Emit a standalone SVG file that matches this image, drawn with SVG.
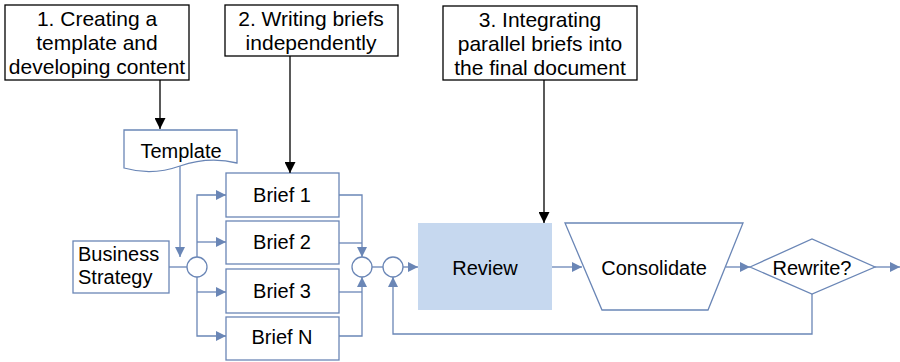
<svg xmlns="http://www.w3.org/2000/svg" width="900" height="362" viewBox="0 0 900 362">
<defs>
<style>
text{font-family:"Liberation Sans",Arial,sans-serif;fill:#000;font-size:20px}
.box{fill:#fff;stroke:#000;stroke-width:1.3}
.node{fill:#fff;stroke:#6A86B6;stroke-width:1.3}
.c{fill:none;stroke:#6A86B6;stroke-width:1.3}
.k{fill:none;stroke:#000;stroke-width:1.3}
.t{text-anchor:middle}
.big{font-size:21px}
</style>
<marker id="ab" viewBox="0 0 10 10" refX="10" refY="5" markerWidth="10" markerHeight="10" markerUnits="userSpaceOnUse" orient="auto"><path d="M0,0 L10,5 L0,10 Z" fill="#6A86B6"/></marker>
<marker id="ak" viewBox="0 0 10 10" refX="10" refY="5" markerWidth="11" markerHeight="11" markerUnits="userSpaceOnUse" orient="auto"><path d="M0,0 L10,5 L0,10 Z" fill="#000"/></marker>
</defs>
<g id="step1"><rect class="box" x="5" y="5" width="184" height="75"/><text class="t big" x="97" y="26">1. Creating a</text><text class="t big" x="97" y="50">template and</text><text class="t big" x="97" y="74">developing content</text></g>
<g id="step2"><rect class="box" x="225" y="5" width="173" height="51"/><text class="t big" x="311" y="26">2. Writing briefs</text><text class="t big" x="311" y="50">independently</text></g>
<g id="step3"><rect class="box" x="443" y="6" width="194" height="74"/><text class="t big" x="540" y="27">3. Integrating</text><text class="t big" x="540" y="51">parallel briefs into</text><text class="t big" x="540" y="75">the final document</text></g>
<g id="template"><path class="node" d="M124,130 H237 V163 Q209,156 180,166 Q152,176 124,168 Z"/><text class="t" x="181" y="158">Template</text></g>
<g id="business"><rect class="node" x="73" y="241" width="96" height="52"/><text x="78" y="261">Business</text><text x="78" y="284">Strategy</text></g>
<g id="join1"><circle class="node" cx="197" cy="267" r="10"/></g>
<g id="brief1"><rect class="node" x="226" y="173" width="113" height="44"/><text class="t" x="282" y="202">Brief 1</text></g>
<g id="brief2"><rect class="node" x="226" y="221" width="113" height="43"/><text class="t" x="282" y="249">Brief 2</text></g>
<g id="brief3"><rect class="node" x="226" y="269" width="113" height="44"/><text class="t" x="282" y="298">Brief 3</text></g>
<g id="briefN"><rect class="node" x="226" y="317" width="113" height="43"/><text class="t" x="282" y="344">Brief N</text></g>
<g id="join2"><circle class="node" cx="362" cy="267" r="10"/></g>
<g id="join3"><circle class="node" cx="393" cy="267" r="10"/></g>
<g id="review"><rect x="418" y="223" width="134" height="87" fill="#C6D8EF"/><text class="t" x="485" y="275">Review</text></g>
<g id="consolidate"><path class="node" d="M565,223 H743 L708,310 H602 Z"/><text class="t" x="654" y="275">Consolidate</text></g>
<g id="rewrite"><path class="node" d="M750,267 L812,239 L875,267 L812,294 Z"/><text class="t" x="812" y="275">Rewrite?</text></g>
<g id="connectors">
<path class="k" d="M160,80 V129" marker-end="url(#ak)"/>
<path class="k" d="M290,56 V173" marker-end="url(#ak)"/>
<path class="k" d="M544,80 V223" marker-end="url(#ak)"/>
<path class="c" d="M180,166 V257" marker-end="url(#ab)"/>
<path class="c" d="M169,267 H187"/>
<path class="c" d="M197,257 V195 H226" marker-end="url(#ab)"/>
<path class="c" d="M197,242 H226" marker-end="url(#ab)"/>
<path class="c" d="M197,277 V336 H226" marker-end="url(#ab)"/>
<path class="c" d="M197,292 H226" marker-end="url(#ab)"/>
<path class="c" d="M339,195 H362 V257" marker-end="url(#ab)"/>
<path class="c" d="M339,243 H362"/>
<path class="c" d="M339,336 H362 V277" marker-end="url(#ab)"/>
<path class="c" d="M339,292 H362"/>
<path class="c" d="M372,267 H383"/>
<path class="c" d="M403,267 H418" marker-end="url(#ab)"/>
<path class="c" d="M552,267 H582" marker-end="url(#ab)"/>
<path class="c" d="M726,267 H750" marker-end="url(#ab)"/>
<path class="c" d="M875,267 H900" marker-end="url(#ab)"/>
<path class="c" d="M812,294 V334 H393 V277" marker-end="url(#ab)"/>
</g>
</svg>
